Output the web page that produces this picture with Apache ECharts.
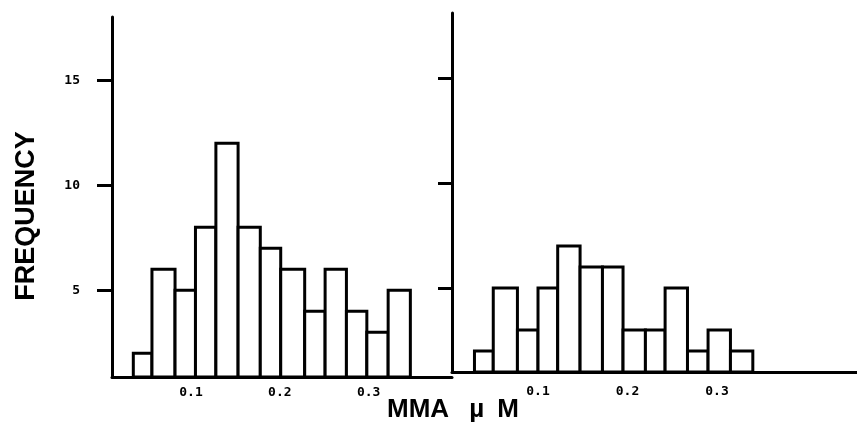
<!DOCTYPE html>
<html>
<head>
<meta charset="utf-8">
<script src="https://cdn.jsdelivr.net/npm/echarts@6/dist/echarts.min.js"></script>
<style>
html,body{margin:0;padding:0;background:#fff;}
#chart{width:857px;height:425px;}
</style>
</head>
<body>
<div id="chart"></div>
<script>
// Histogram data (bin edges in µM, frequencies)
const leftBinEdges  = [0.035,0.056,0.082,0.105,0.128,0.153,0.178,0.201,0.228,0.251,0.275,0.298,0.322,0.347];
const leftValues    = [2,6,5,8,12,8,7,6,4,6,4,3,5];
const rightBinEdges = [0.029,0.050,0.077,0.100,0.122,0.147,0.172,0.195,0.220,0.242,0.267,0.290,0.315,0.340];
const rightValues   = [2,5,3,5,7,6,6,3,3,5,2,3,2];
const xTickLabels   = [0.1,0.2,0.3];
const yTickValues   = [5,10,15];
const yAxisTitle    = 'FREQUENCY';
const xAxisTitle    = 'MMA µM';

function binData(edges, values){
  return values.map((v,i)=>[edges[i], edges[i+1], v]);
}

const chart = echarts.init(document.getElementById('chart'));
const LEFT_YMIN = 0.87, RIGHT_YMIN = 1.0;

function renderBar(yMin){
  return function(params, api){
    const p0 = api.coord([api.value(0), api.value(2)]);
    const p1 = api.coord([api.value(1), yMin]);
    return {
      type:'rect',
      shape:{x:p0[0], y:p0[1], width:p1[0]-p0[0], height:p1[1]-p0[1]},
      style:{fill:'#fff', stroke:'#000', lineWidth:3}
    };
  };
}

const tickFont = {fontFamily:'DejaVu Sans Mono', fontWeight:'bold', fontSize:13, color:'#000'};

// split the x title into styled parts to reproduce its wide letter spacing
const titleParts = xAxisTitle.split(' ');           // ['MMA', 'µM']
const richTitle = '{a|' + titleParts[0] + '} {b|' + titleParts[1].charAt(0) + '}{c|' + titleParts[1].slice(1) + '}';
const titleFont = 'bold 26px "Liberation Sans"';

chart.setOption({
  backgroundColor:'#fff',
  animation:false,
  grid:[
    {left:112, top:17, width:340, height:360},
    {left:452, top:13, width:405, height:359}
  ],
  xAxis:[
    {gridIndex:0, type:'value', min:0.011, max:0.3939,
     axisLine:{show:true, onZero:false, lineStyle:{color:'#000', width:3}},
     axisTick:{show:false}, splitLine:{show:false},
     axisLabel:Object.assign({customValues:xTickLabels, margin:9, formatter:v=>v.toFixed(1)}, tickFont)},
    {gridIndex:1, type:'value', min:0.0039, max:0.4564,
     axisLine:{show:true, onZero:false, lineStyle:{color:'#000', width:3}},
     axisTick:{show:false}, splitLine:{show:false},
     axisLabel:Object.assign({customValues:xTickLabels, margin:13, formatter:v=>v.toFixed(1)}, tickFont)}
  ],
  yAxis:[
    {gridIndex:0, type:'value', min:LEFT_YMIN, max:18.01,
     axisLine:{show:true, onZero:false, lineStyle:{color:'#000', width:3}},
     axisTick:{show:true, customValues:yTickValues, length:15, lineStyle:{color:'#000', width:3}},
     splitLine:{show:false},
     axisLabel:Object.assign({customValues:yTickValues, margin:32}, tickFont)},
    {gridIndex:1, type:'value', min:RIGHT_YMIN, max:18.1,
     axisLine:{show:true, onZero:false, lineStyle:{color:'#000', width:3}},
     axisTick:{show:true, customValues:yTickValues, length:14, lineStyle:{color:'#000', width:3}},
     splitLine:{show:false},
     axisLabel:{show:false}}
  ],
  series:[
    {type:'custom', xAxisIndex:0, yAxisIndex:0, renderItem:renderBar(LEFT_YMIN),
     data:binData(leftBinEdges,leftValues), encode:{x:[0,1], y:2}, z:1},
    {type:'custom', xAxisIndex:1, yAxisIndex:1, renderItem:renderBar(RIGHT_YMIN),
     data:binData(rightBinEdges,rightValues), encode:{x:[0,1], y:2}, z:1}
  ],
  graphic:[
    {type:'text', x:27, y:216, rotation:Math.PI/2,
     style:{text:yAxisTitle, font:'bold 27px "Liberation Sans"', fill:'#000', textAlign:'center', textVerticalAlign:'middle'}},
    {type:'text', x:387, y:410,
     style:{text:richTitle, font:titleFont, fill:'#000', textAlign:'left', textVerticalAlign:'middle',
       rich:{
         a:{font:titleFont, fill:'#000'},
         b:{font:titleFont, fill:'#000', padding:[0,0,0,13]},
         c:{font:titleFont, fill:'#000', padding:[0,0,0,13]}
       }}}
  ]
});
</script>
</body>
</html>
